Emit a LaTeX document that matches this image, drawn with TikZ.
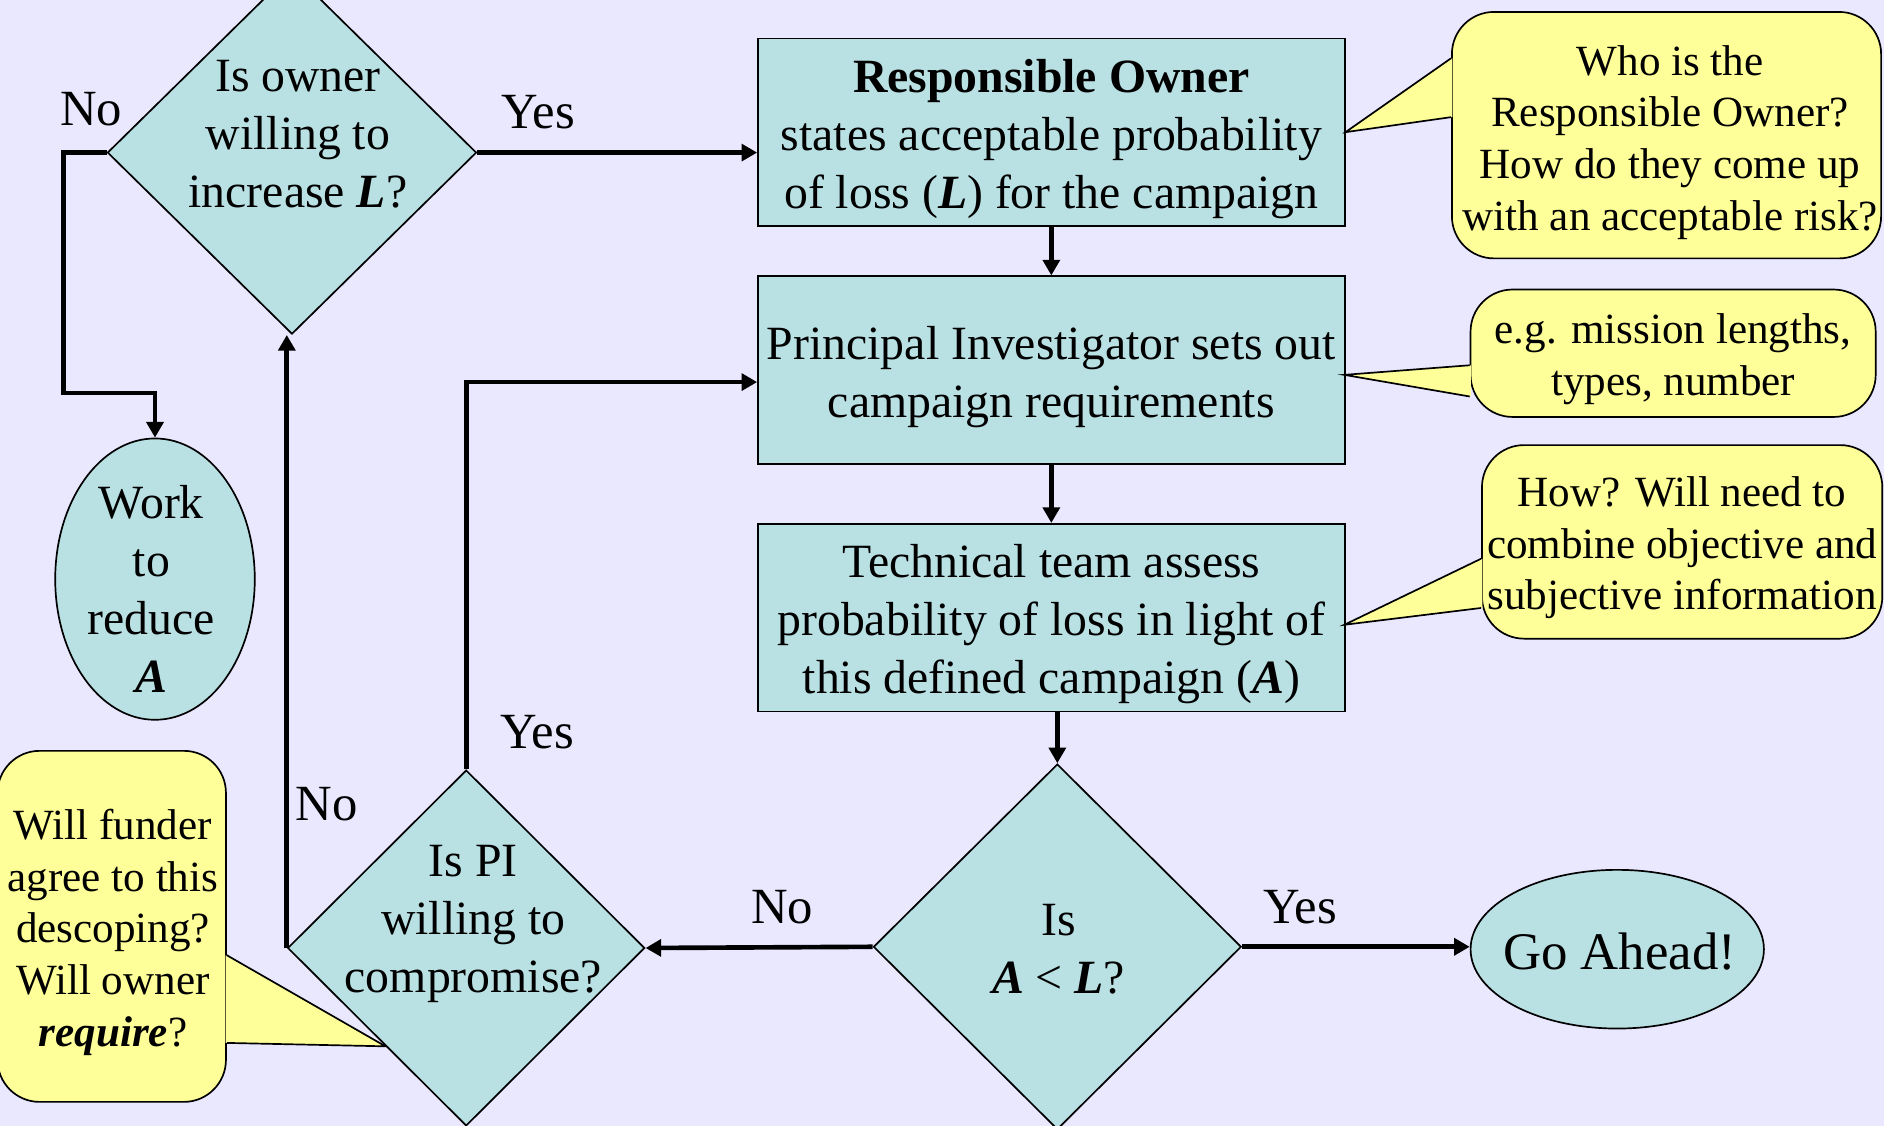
\documentclass[tikz,border=0pt]{standalone}
\usepackage{fontspec}
\setmainfont{Liberation Serif}
\usetikzlibrary{shapes.geometric,arrows.meta,calc}
\definecolor{bgpage}{RGB}{234,232,255}
\definecolor{boxfill}{RGB}{185,224,227}
\definecolor{notefill}{RGB}{255,255,153}
\tikzset{
  stepbox/.style={draw,line width=0.4pt,fill=boxfill,minimum width=4.88cm,minimum height=1.56cm,inner sep=0pt},
  ask/.style={draw,line width=0.4pt,fill=boxfill,diamond,inner sep=0pt},
  endpt/.style={draw,line width=0.4pt,fill=boxfill,ellipse,inner sep=0pt},
  note/.style={draw,line width=0.4pt,fill=notefill,rounded corners=0.35cm,inner sep=0pt},
  notetxt/.style={align=center,inner sep=0pt,font=\fontsize{10.2}{12.2}\selectfont},
  flow/.style={line width=1.1pt,-{Triangle[length=0.13cm,width=0.14cm]}},
  ans/.style={font=\fontsize{12}{14}\selectfont}
}
\newcommand{\bi}[1]{\textbf{\textit{#1}}}
\begin{document}
\begin{tikzpicture}[x=0.01cm,y=-0.01cm,every node/.append style={font=\fontsize{11.3}{13.7}\selectfont}]
  \useasboundingbox (0,0) rectangle (1568,937);
  \fill[bgpage] (0,0) rectangle (1568,937);
  \clip (0,0) rectangle (1568,937);

  % decisions
  \node[ask,minimum width=3.07cm,minimum height=3.02cm] (d1) at (243,127) {};
  \node[align=center] (d1txt) at (248,112) {Is owner\\willing to\\increase \bi{L}?};
  \node[ask,minimum width=3.06cm,minimum height=3.04cm] (d2) at (880,788) {};
  \node[align=center] (d2txt) at (881,790) {Is\\\bi{A} < \bi{L}?};
  \node[ask,minimum width=2.97cm,minimum height=2.96cm] (d3) at (388,789) {};
  \node[align=center] (d3txt) at (394,769) {Is PI\\willing to\\compromise?};

  % steps
  \node[stepbox] (b1) at (875,110) {};
  \node[align=center] (b1txt) at ($(b1)+(0,5.5)$) {\textbf{Responsible Owner}\\states acceptable probability\\of loss (\bi{L}) for the campaign};
  \node[stepbox] (b2) at (875,308) {};
  \node[align=center] (b2txt) at ($(b2)+(0,5.5)$) {Principal Investigator sets out\\campaign requirements};
  \node[stepbox] (b3) at (875,514) {};
  \node[align=center] (b3txt) at ($(b3)+(0,5.5)$) {Technical team assess\\probability of loss in light of\\this defined campaign (\bi{A})};

  % ends
  \node[endpt,minimum width=2.44cm,minimum height=1.32cm] (e1) at (1346,790) {};
  \node[font=\fontsize{12.5}{14}\selectfont] (e1txt) at (1348,792) {Go Ahead!};
  \node[endpt,minimum width=1.66cm,minimum height=2.34cm] (e2) at (129,482) {};
  \node[align=center] (e2txt) at (126,490) {Work\\to\\reduce\\\bi{A}};

  % notes
  \node[note,minimum width=3.57cm,minimum height=2.05cm] (c1) at (1387,112.5) {};
  \node[notetxt] (c1txt) at ($(c1)+(3,6)$) {Who is the\\Responsible Owner?\\How do they come up\\with an acceptable risk?};
  \fill[notefill] ($(c1.west)+(1,-64)$) -- (b1.east) -- ($(c1.west)+(1,-15)$) -- cycle;
  \draw[line width=0.4pt] ($(c1.west)+(0,-64)$) -- (b1.east) -- ($(c1.west)+(0,-15)$);

  \node[note,minimum width=3.37cm,minimum height=1.06cm] (c2) at (1392.5,294) {};
  \node[notetxt] (c2txt) at ($(c2)+(0,5)$) {e.g. mission lengths,\\types, number};
  \fill[notefill] ($(c2.west)+(1,10)$) -- ($(b2.east)+(-1,4)$) -- ($(c2.west)+(1,36)$) -- cycle;
  \draw[line width=0.4pt] ($(c2.west)+(0,10)$) -- ($(b2.east)+(-1,4)$) -- ($(c2.west)+(0,36)$);

  \node[note,minimum width=3.33cm,minimum height=1.61cm] (c3) at (1400,451) {};
  \node[notetxt] (c3txt) at ($(c3)+(0,5)$) {How? Will need to\\combine objective and\\subjective information};
  \fill[notefill] ($(c3.west)+(1,14)$) -- ($(b3.east)+(-1,6)$) -- ($(c3.west)+(1,55)$) -- cycle;
  \draw[line width=0.4pt] ($(c3.west)+(0,14)$) -- ($(b3.east)+(-1,6)$) -- ($(c3.west)+(0,55)$);

  \node[note,minimum width=1.90cm,minimum height=2.92cm] (c4) at (93,771) {};
  \node[notetxt] (c4txt) at ($(c4)+(1,5)$) {Will funder\\agree to this\\descoping?\\Will owner\\\bi{require}?};
  \coordinate (c4tip) at ($(d3.west)!0.55!(d3.south)$);
  \fill[notefill] ($(c4.east)+(-1,24)$) -- (c4tip) -- ($(c4.east)+(-1,97)$) -- cycle;
  \draw[line width=0.4pt] ($(c4.east)+(0,24)$) -- (c4tip) -- ($(c4.east)+(0,97)$);

  % flow
  \draw[flow] (d1.east) -- (d1.east -| b1.west);
  \draw[flow] (b1.south) -- (b2.north);
  \draw[flow] (b2.south) -- (b3.north);
  \draw[flow] (b3.south -| d2.north) -- (d2.north);
  \draw[flow] (d2.east) -- (d2.east -| e1.west);
  \draw[flow] (d2.west) -- (d3.east);
  \draw[flow] (d3.north) |- ($(b2.west)+(0,10)$);
  \draw[flow] (d3.west) -- (d3.west |- d1.south);
  \draw[flow] (d1.west) -| (53,327) -| (e2.north);

  % answers
  \node[ans] (y1) at (448,93) {Yes};
  \node[ans] (n1) at (76,91) {No};
  \node[ans] (y2) at (447,609) {Yes};
  \node[ans] (n2) at (272,669) {No};
  \node[ans] (n3) at (651,755) {No};
  \node[ans] (y3) at (1082,755) {Yes};
\end{tikzpicture}
\end{document}
